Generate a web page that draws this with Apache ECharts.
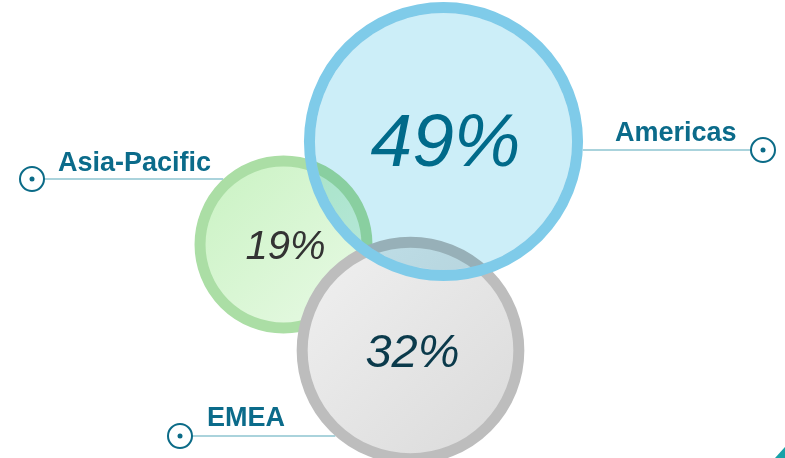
<!DOCTYPE html>
<html><head><meta charset="utf-8">
<script src="https://cdn.jsdelivr.net/npm/echarts@6/dist/echarts.min.js"></script>
<style>html,body{margin:0;padding:0;background:#fff}#chart{width:785px;height:458px}</style>
</head><body><div id="chart"></div>
<script>
// Regional share of revenue (drawing order: bottom to top)
const regions = ['Asia-Pacific', 'EMEA', 'Americas'];
const shares = [19, 32, 49];

// Bubble centres on the 785 x 458 canvas
const centerX = [283.5, 410.5, 443.5];
const centerY = [244.5, 350.5, 141.5];

// Callout layout: connector line height, marker x, name text position
const calloutLineY = [179, 436, 150];
const calloutMarkerX = [32, 180, 763];
const calloutTextX = [58, 207, 615];
const calloutTextY = [164, 419, 134];

// Bubble area proportional to share
const SIZE_K = 38.3;
const BORDER = 11;
const bubbleSize = v => SIZE_K * Math.sqrt(v);

const fills = [
  { type: 'linear', x: 0, y: 0, x2: 1, y2: 1, colorStops: [{ offset: 0, color: '#c8f2c1' }, { offset: 1, color: '#eafae7' }] },
  { type: 'linear', x: 0, y: 0, x2: 1, y2: 1, colorStops: [{ offset: 0, color: '#f1f1f1' }, { offset: 1, color: '#d9d9d9' }] },
  'rgba(0,0,0,0)'
];
const borders = ['#abdea5', '#bdbdbd', '#7fcbe9'];
const valueColors = ['#333333', '#0b3a4b', '#006a8a'];
const valueSizes = [40, 47, 75];
const valueOffsetY = [3, 3, 4];
const TEAL = '#0b6b87';

const points = regions.map((r, i) => ({ name: r, value: [centerX[i], centerY[i], shares[i]] }));

const chart = echarts.init(document.getElementById('chart'), null, { renderer: 'canvas' });
chart.setOption({
  backgroundColor: '#ffffff',
  animation: false,
  grid: { left: 0, right: 0, top: 0, bottom: 0 },
  xAxis: { type: 'value', min: 0, max: 785, show: false },
  yAxis: { type: 'value', min: 0, max: 458, inverse: true, show: false },
  series: [
    {
      // bubbles with their rings
      type: 'scatter', z: 2, clip: false, silent: true,
      symbol: 'circle',
      symbolSize: d => bubbleSize(d[2]),
      data: points.map((p, i) => ({
        ...p,
        itemStyle: { color: fills[i], borderColor: borders[i], borderWidth: BORDER, opacity: 1 }
      }))
    },
    {
      // tinted glass interior of the Americas bubble
      type: 'scatter', z: 3, clip: false, silent: true,
      blendMode: 'multiply',
      symbol: 'circle',
      symbolSize: d => bubbleSize(d[2]) - BORDER,
      data: [{ ...points[2], itemStyle: { color: '#cceef8', opacity: 1 } }]
    },
    {
      // share labels
      type: 'scatter', z: 5, clip: false, silent: true,
      symbolSize: 0,
      itemStyle: { opacity: 1 },
      data: points.map((p, i) => ({
        ...p,
        label: {
          show: true, position: 'inside',
          offset: [2, valueOffsetY[i]],
          formatter: pp => pp.value[2] + '%',
          color: valueColors[i], fontSize: valueSizes[i], opacity: 1,
          fontStyle: 'italic', fontFamily: '"Liberation Sans", Arial, sans-serif'
        }
      }))
    }
  ]
});

// Callouts: marker, connector to the bubble edge and region name
const graphic = [];
regions.forEach((name, i) => {
  const c = chart.convertToPixel({ seriesIndex: 0 }, [centerX[i], centerY[i]]);
  const rOut = (bubbleSize(shares[i]) + BORDER) / 2;
  const ly = calloutLineY[i];
  const dx = Math.sqrt(Math.max(0, rOut * rOut - (ly - c[1]) * (ly - c[1])));
  const mx = calloutMarkerX[i];
  const leftSide = mx < c[0];
  const x1 = leftSide ? mx + 12 : c[0] + dx;
  const x2 = leftSide ? c[0] - dx : mx - 12;
  graphic.push({
    type: 'line', silent: true, z: 1,
    shape: { x1: x1, y1: ly, x2: x2, y2: ly },
    style: { stroke: '#8ec4d0', lineWidth: 1.5 }
  });
  graphic.push({
    type: 'circle', silent: true, z: 10,
    shape: { cx: mx, cy: ly, r: 12 },
    style: { fill: '#ffffff', stroke: TEAL, lineWidth: 2 }
  });
  graphic.push({
    type: 'circle', silent: true, z: 10,
    shape: { cx: mx, cy: ly, r: 2.5 },
    style: { fill: TEAL }
  });
  graphic.push({
    type: 'text', silent: true, z: 10,
    x: calloutTextX[i], y: calloutTextY[i],
    style: {
      text: name, fill: '#0b6b8a',
      font: 'bold 27px "Liberation Sans", Arial, sans-serif',
      align: 'left', verticalAlign: 'middle'
    }
  });
});
// corner accent
graphic.push({
  type: 'polygon', silent: true, z: 10,
  shape: { points: [[775, 458], [785, 447], [785, 458]] },
  style: { fill: '#17a2a8' }
});
chart.setOption({ graphic: graphic });
</script>
</body></html>
